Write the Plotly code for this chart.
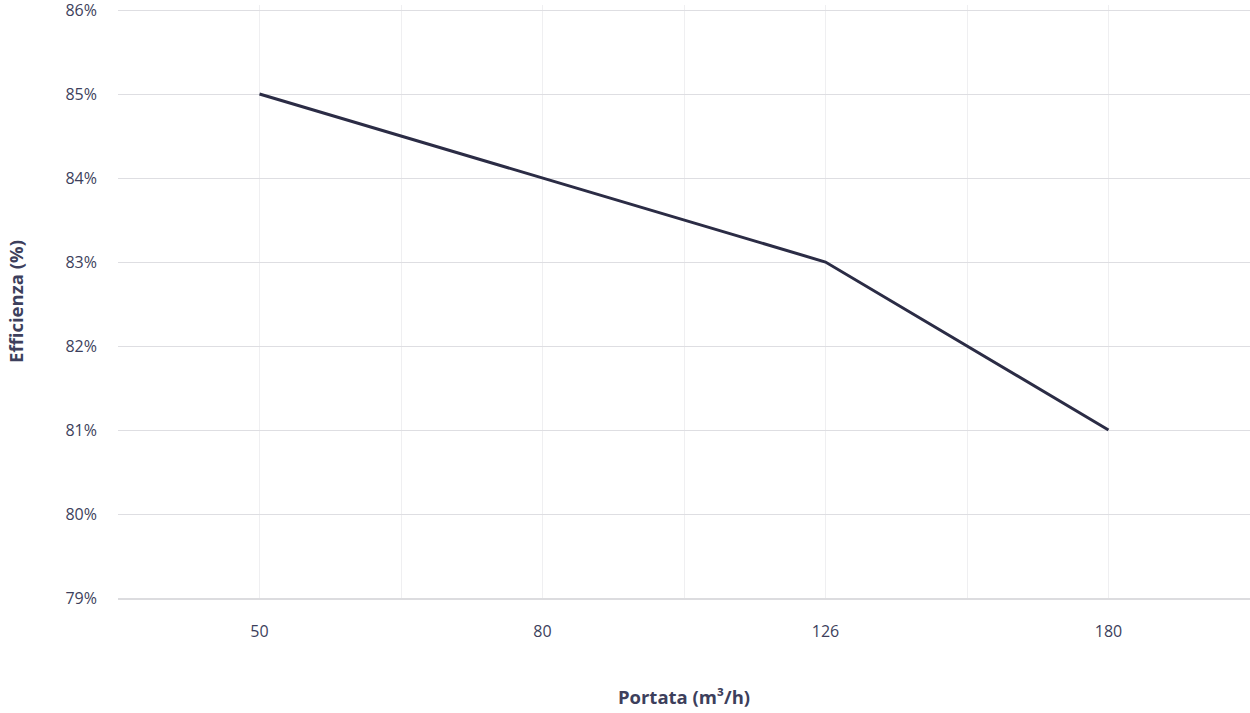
import plotly.graph_objects as go

categories = ["50", "80", "126", "180"]
efficiency = [85, 84, 83, 81]
y_ticks = [79, 80, 81, 82, 83, 84, 85, 86]

x_idx = list(range(len(categories)))
font_family = "'Open Sans', Lato, sans-serif"
text_color = "#3d3f5c"

fig = go.Figure(go.Scatter(
    x=x_idx, y=efficiency, mode="lines",
    line=dict(color="#2b2c45", width=3),
    hoverinfo="skip",
))

fig.update_layout(
    width=1250, height=713,
    margin=dict(l=118, r=0, t=5, b=115, autoexpand=False),
    paper_bgcolor="white", plot_bgcolor="white",
    showlegend=False,
    font=dict(family=font_family, color=text_color, size=16),
)

fig.update_xaxes(
    automargin=False,
    range=[-0.5, len(categories) - 0.5],
    tickmode="array", tickvals=x_idx, ticktext=categories,
    showgrid=True, gridcolor="#efeff1", gridwidth=1,
    minor=dict(tickmode="array",
               tickvals=[i - 0.5 for i in range(len(categories) + 1)],
               showgrid=True, gridcolor="#efeff1", gridwidth=1),
    zeroline=False,
    showline=True, linecolor="#dcdcdf", linewidth=2,
    ticks="", ticklabelstandoff=18,
    tickfont=dict(size=16, color=text_color),
    title=dict(text="<b>Portata (m³/h)</b>", standoff=50,
               font=dict(size=18.5, color=text_color)),
)

fig.update_yaxes(
    automargin=False,
    range=[79, 86.06],
    tickmode="array", tickvals=y_ticks,
    ticktext=[f"{v}%" for v in y_ticks],
    ticklabeloverflow="allow",
    showgrid=True, gridcolor="#dedee2", gridwidth=1,
    zeroline=False, showline=False,
    ticks="", ticklabelstandoff=20,
    tickfont=dict(size=16, color=text_color),
    title=dict(text="<b>Efficienza (%)</b>", standoff=36,
               font=dict(size=18.5, color=text_color)),
)

fig.write_html(
    "out.html",
    config={"displayModeBar": False},
    post_script="document.body.style.margin='0';document.body.style.overflow='hidden';",
)
